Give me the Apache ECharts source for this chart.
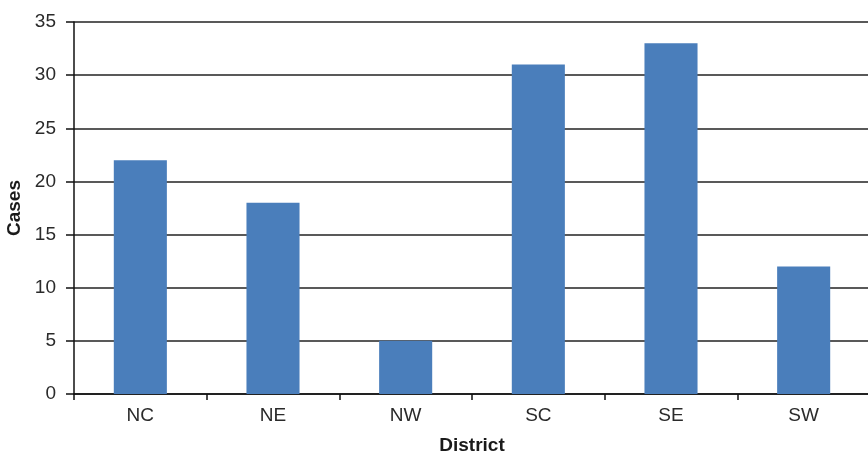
<!DOCTYPE html>
<html><head><meta charset="utf-8">
<script src="https://cdn.jsdelivr.net/npm/echarts@6/dist/echarts.min.js"></script>
<style>html,body{margin:0;padding:0;background:#fff}#c{width:868px;height:456px}</style>
</head><body><div id="c"></div>
<script>
const categories = ['NC','NE','NW','SC','SE','SW'];
const cases = [22, 18, 5, 31, 33, 12];
const yTicks = {min: 0, max: 35, interval: 5};

const chart = echarts.init(document.getElementById('c'), null, {renderer: 'canvas'});
const font = 'Liberation Sans, Arial, sans-serif';
chart.setOption({
  animation: false,
  backgroundColor: '#fff',
  grid: {left: 74, right: -2, top: 22, bottom: 62, containLabel: false, outerBoundsMode: 'none'},
  xAxis: {
    type: 'category', data: categories,
    name: 'District', nameLocation: 'middle', nameGap: 42,
    nameTextStyle: {fontFamily: font, fontSize: 19, fontWeight: 'bold', color: '#1a1a1a'},
    axisLine: {lineStyle: {color: '#111', width: 1.5}},
    axisTick: {show: true, length: 6, lineStyle: {color: '#111', width: 1.5}},
    axisLabel: {fontFamily: font, fontSize: 19, color: '#2a2a2a', margin: 12}
  },
  yAxis: {
    type: 'value', min: yTicks.min, max: yTicks.max, interval: yTicks.interval,
    name: 'Cases', nameLocation: 'middle', nameGap: 48, nameRotate: 90,
    nameTextStyle: {fontFamily: font, fontSize: 19, fontWeight: 'bold', color: '#1a1a1a'},
    axisLine: {show: true, lineStyle: {color: '#111', width: 1.5}},
    axisTick: {show: true, length: 8, lineStyle: {color: '#111', width: 1.5}},
    axisLabel: {fontFamily: font, fontSize: 19, color: '#2a2a2a', margin: 18},
    splitLine: {show: true, lineStyle: {color: '#222', width: 1.5}}
  },
  series: [{
    type: 'bar', data: cases, barWidth: '40%',
    itemStyle: {color: '#4a7ebb'}
  }]
});
</script></body></html>
